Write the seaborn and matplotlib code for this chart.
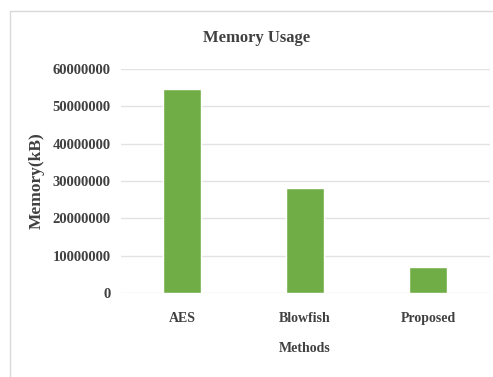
import matplotlib
matplotlib.use("Agg")
import matplotlib.pyplot as plt
from matplotlib.lines import Line2D
import seaborn as sns
import pandas as pd

methods = ["AES", "Blowfish", "Proposed"]
memory_kb = [54700000, 28200000, 7000000]
y_ticks = [0, 10000000, 20000000, 30000000, 40000000, 50000000, 60000000]

sns.set_style("white")
plt.rcParams["font.family"] = ["Liberation Serif", "DejaVu Serif"]

df = pd.DataFrame({"Methods": methods, "Memory": memory_kb})

fig = plt.figure(figsize=(4.93, 3.77), dpi=100)
ax = fig.add_axes([120.5 / 493, 1 - 293 / 377, 369 / 493, 224 / 377])

sns.barplot(data=df, x="Methods", y="Memory", color="#70AD47", width=0.31,
            saturation=1, ax=ax, zorder=3)

ax.set_ylim(0, 60000000)
ax.set_xlim(-0.5, 2.5)
ax.set_yticks(y_ticks)
ax.set_yticklabels([str(v) for v in y_ticks])
ax.yaxis.grid(True, color="#e3e3e3", linewidth=1.0, zorder=0)
ax.set_axisbelow(True)
for s in ax.spines.values():
    s.set_visible(False)
ax.tick_params(axis="both", length=0, colors="#404040")
ax.tick_params(axis="y", pad=7, labelsize=10.5)
ax.tick_params(axis="x", pad=14, labelsize=10)
for lbl in ax.get_yticklabels() + ax.get_xticklabels():
    lbl.set_fontweight("bold")

ax.set_xlabel("Methods", fontsize=10, fontweight="bold", color="#404040", labelpad=12)
ax.set_ylabel("Memory(kB)", fontsize=12.5, fontweight="bold", color="#404040", labelpad=6)

fig.text(257 / 493, 1 - 38 / 377, "Memory Usage", ha="center", va="center",
         fontsize=12, fontweight="bold", color="#404040")

# chart area frame
fig.add_artist(Line2D([10 / 493, 10 / 493], [0, 1 - 11 / 377],
                      transform=fig.transFigure, color="#d9d9d9", linewidth=1))
fig.add_artist(Line2D([10 / 493, 1], [1 - 11 / 377, 1 - 11 / 377],
                      transform=fig.transFigure, color="#d9d9d9", linewidth=1))

fig.savefig("out.png", dpi=100)
